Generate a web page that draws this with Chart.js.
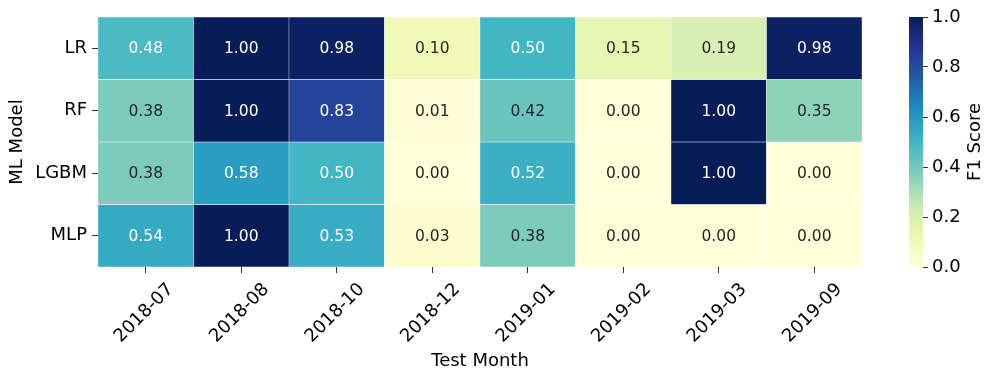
<!DOCTYPE html>
<html>
<head>
<meta charset="utf-8">
<script src="https://cdn.jsdelivr.net/npm/chart.js@4/dist/chart.umd.min.js"></script>
<style>
  body { margin: 0; background: #fff; }
  #wrap { position: relative; width: 996px; height: 380px; }
  #heat { position: absolute; left: 0; top: 0; }
  #barra { position: absolute; left: 870px; top: 0; }
</style>
</head>
<body>
<div id="wrap">
  <canvas id="heat" width="880" height="380"></canvas>
  <canvas id="barra" width="126" height="380"></canvas>
</div>
<script>
const meses = ["2018-07", "2018-08", "2018-10", "2018-12", "2019-01", "2019-02", "2019-03", "2019-09"];
const modelos = ["LR", "RF", "LGBM", "MLP"];
const f1LR = [0.48, 1.00, 0.98, 0.10, 0.50, 0.15, 0.19, 0.98];
const f1RF = [0.38, 1.00, 0.83, 0.01, 0.42, 0.00, 1.00, 0.35];
const f1LGBM = [0.38, 0.58, 0.50, 0.00, 0.52, 0.00, 1.00, 0.00];
const f1MLP = [0.54, 1.00, 0.53, 0.03, 0.38, 0.00, 0.00, 0.00];
const ticksBarra = [0, 0.2, 0.4, 0.6, 0.8, 1.0];

const filas = [f1LR, f1RF, f1LGBM, f1MLP];
const fuente = "'DejaVu Sans', sans-serif";

// YlGnBu de matplotlib
const paleta = ["#ffffd9", "#edf8b1", "#c7e9b4", "#7fcdbb", "#41b6c4", "#1d91c0", "#225ea8", "#253494", "#081d58"];

function hexARgb(h) {
    return [parseInt(h.slice(1, 3), 16), parseInt(h.slice(3, 5), 16), parseInt(h.slice(5, 7), 16)];
}

function colorDe(v) {
    const t = Math.max(0, Math.min(1, v)) * (paleta.length - 1);
    const i = Math.min(Math.floor(t), paleta.length - 2);
    const f = t - i;
    const a = hexARgb(paleta[i]);
    const b = hexARgb(paleta[i + 1]);
    return a.map((c, k) => Math.round(c + (b[k] - c) * f));
}

function luminancia(rgb) {
    const lin = rgb.map(c => {
        c = c / 255;
        return c <= 0.03928 ? c / 12.92 : Math.pow((c + 0.055) / 1.055, 2.4);
    });
    return 0.2126 * lin[0] + 0.7152 * lin[1] + 0.0722 * lin[2];
}

const rgbCss = rgb => `rgb(${rgb[0]}, ${rgb[1]}, ${rgb[2]})`;

const datasets = filas.map((fila, r) => ({
    label: modelos[r],
    data: fila.map(() => [r, r + 1]),
    valores: fila,
    backgroundColor: fila.map(v => rgbCss(colorDe(v))),
    borderColor: "rgba(255, 255, 255, 0.75)",
    borderWidth: 0.5,
    borderSkipped: false,
    grouped: false,
    barPercentage: 1,
    categoryPercentage: 1
}));

const etiquetasCeldas = {
    id: "etiquetasCeldas",
    afterDatasetsDraw(chart) {
        const ctx = chart.ctx;
        ctx.save();
        ctx.font = "15.5px " + fuente;
        ctx.textAlign = "center";
        ctx.textBaseline = "middle";
        chart.data.datasets.forEach((ds, d) => {
            chart.getDatasetMeta(d).data.forEach((bar, i) => {
                const v = ds.valores[i];
                ctx.fillStyle = luminancia(colorDe(v)) > 0.408 ? "#262626" : "#ffffff";
                ctx.fillText(v.toFixed(2), bar.x, (bar.y + bar.base) / 2 + 1);
            });
        });
        ctx.restore();
    }
};

new Chart(document.getElementById("heat"), {
    type: "bar",
    data: { labels: meses, datasets: datasets },
    options: {
        responsive: false,
        animation: false,
        layout: { padding: { left: 0, top: 17, right: 18, bottom: 0 } },
        plugins: { legend: { display: false }, tooltip: { enabled: false } },
        scales: {
            x: {
                offset: true,
                grid: { display: true, drawOnChartArea: false, offset: false, tickLength: 6, color: "#333" },
                border: { display: false },
                ticks: { color: "#000", font: { family: fuente, size: 18 }, minRotation: 45, maxRotation: 45, padding: 6, labelOffset: 25 },
                title: { display: true, text: "Test Month", color: "#000", font: { family: fuente, size: 18 }, padding: { top: 0, bottom: 8 } },
                afterFit(scale) { scale.height = 113; }
            },
            y: {
                min: 0,
                max: 4,
                reverse: true,
                afterBuildTicks(scale) { scale.ticks = modelos.map((m, i) => ({ value: i + 0.5 })); },
                grid: { display: true, drawOnChartArea: false, tickLength: 6, color: "#333" },
                border: { display: false },
                ticks: {
                    color: "#000",
                    font: { family: fuente, size: 18 },
                    padding: 5,
                    callback: v => modelos[Math.floor(v)]
                },
                title: { display: true, text: "ML Model", color: "#000", font: { family: fuente, size: 18 }, padding: { top: 7, bottom: 0 } },
                afterFit(scale) { scale.width = 98; }
            }
        }
    },
    plugins: [etiquetasCeldas]
});

const tituloBarra = {
    id: "tituloBarra",
    afterDraw(chart) {
        const ctx = chart.ctx;
        const area = chart.chartArea;
        ctx.save();
        ctx.translate(105, (area.top + area.bottom) / 2);
        ctx.rotate(-Math.PI / 2);
        ctx.font = "18px " + fuente;
        ctx.fillStyle = "#000";
        ctx.textAlign = "center";
        ctx.textBaseline = "middle";
        ctx.fillText("F1 Score", 0, 0);
        ctx.restore();
    }
};

new Chart(document.getElementById("barra"), {
    type: "bar",
    data: {
        labels: [""],
        datasets: [{
            data: [[0, 1]],
            backgroundColor(c) {
                const area = c.chart.chartArea;
                if (!area) return paleta[0];
                const g = c.chart.ctx.createLinearGradient(0, area.bottom, 0, area.top);
                paleta.forEach((p, i) => g.addColorStop(i / (paleta.length - 1), p));
                return g;
            },
            borderWidth: 0,
            barPercentage: 1,
            categoryPercentage: 1
        }]
    },
    options: {
        responsive: false,
        animation: false,
        layout: { padding: { left: 39, top: 17, right: 0, bottom: 113 } },
        plugins: { legend: { display: false }, tooltip: { enabled: false } },
        scales: {
            x: { display: false },
            y: {
                position: "right",
                min: 0,
                max: 1,
                afterBuildTicks(scale) { scale.ticks = ticksBarra.map(v => ({ value: v })); },
                grid: { display: true, drawOnChartArea: false, tickLength: 5, color: "#333" },
                border: { display: false },
                ticks: { color: "#000", font: { family: fuente, size: 18 }, padding: 4, callback: v => v.toFixed(1) },
                afterFit(scale) { scale.width = 73; }
            }
        }
    },
    plugins: [tituloBarra]
});
</script>
</body>
</html>
